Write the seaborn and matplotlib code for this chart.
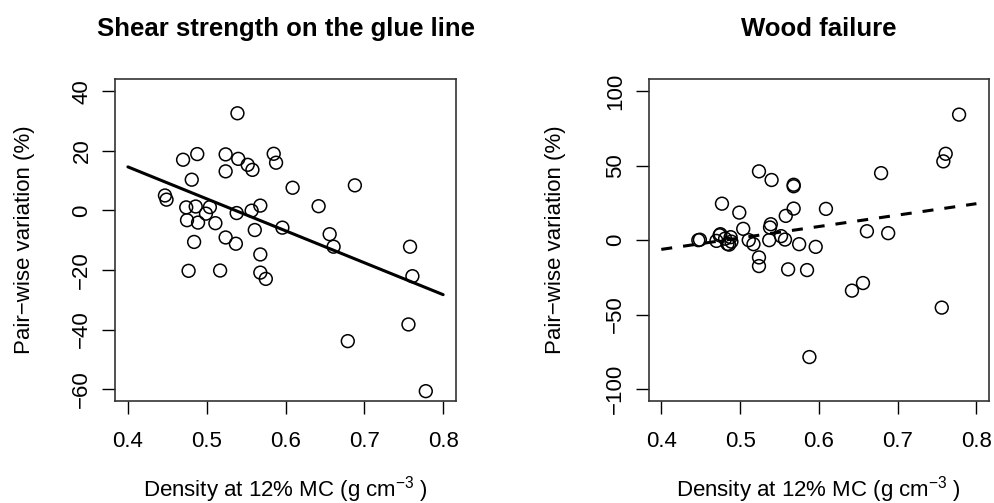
import matplotlib
matplotlib.use("Agg")
import matplotlib.pyplot as plt
import seaborn as sns
import pandas as pd
import numpy as np

# Density at 12% MC (g cm^-3), shared by both panels
density = [0.447, 0.449, 0.470, 0.488, 0.481, 0.539, 0.524, 0.524, 0.540, 0.552,
           0.558, 0.585, 0.588, 0.474, 0.486, 0.504, 0.499, 0.475, 0.489, 0.511,
           0.538, 0.557, 0.568, 0.561, 0.596, 0.484, 0.524, 0.537, 0.609, 0.688,
           0.642, 0.656, 0.661, 0.758, 0.477, 0.517, 0.568, 0.568, 0.575, 0.761,
           0.756, 0.679, 0.778]

# Pair-wise variation (%) - shear strength on the glue line
shear = [5.0, 3.6, 17.0, 18.9, 10.3, 32.6, 18.8, 13.1, 17.3, 15.3,
         13.6, 19.0, 16.0, 1.0, 1.3, 1.1, -1.1, -3.3, -4.1, -4.3,
         -0.9, -0.1, 1.6, -6.6, -5.8, -10.6, -9.1, -11.2, 7.6, 8.4,
         1.4, -8.0, -12.2, -12.2, -20.3, -20.2, -14.8, -20.9, -23.0, -22.1,
         -38.3, -43.9, -60.7]

# Pair-wise variation (%) - wood failure
wood = [0.0, 0.3, -0.5, 2.0, 1.0, 10.7, 46.2, -11.6, 40.4, 2.7,
        16.3, -20.1, -78.5, 3.3, -3.0, 7.6, 18.5, 4.0, -1.0, 0.0,
        8.5, 0.4, 21.2, -19.6, -4.5, -2.5, -17.4, 0.0, 21.0, 4.7,
        -33.9, -28.8, 6.0, 52.9, 24.5, -2.7, 36.2, 37.2, -2.7, 58.0,
        -45.3, 45.0, 84.3]

# Fitted regression lines
fit_x = [0.4, 0.8]
shear_fit = [14.6, -28.3]
wood_fit = [-6.2, 24.5]

titles = ["Shear strength on the glue line", "Wood failure"]
x_ticks = [0.4, 0.5, 0.6, 0.7, 0.8]
shear_ticks = [-60, -40, -20, 0, 20, 40]
wood_ticks = [-100, -50, 0, 50, 100]

sns.set_theme(style="ticks")
plt.rcParams['font.family'] = ['Liberation Sans', 'DejaVu Sans']
plt.rcParams['mathtext.fontset'] = 'custom'
plt.rcParams['mathtext.rm'] = 'Liberation Sans'
plt.rcParams['mathtext.default'] = 'regular'
plt.rcParams['text.color'] = 'black'
plt.rcParams['axes.labelcolor'] = 'black'
plt.rcParams['xtick.color'] = 'black'
plt.rcParams['ytick.color'] = 'black'

fig = plt.figure(figsize=(9.94, 5.03), dpi=100)
ax1 = fig.add_axes([0.116, 0.2028, 0.3425, 0.6395])
ax2 = fig.add_axes([0.6526, 0.2028, 0.3424, 0.6395])

df = pd.DataFrame({"density": density, "shear": shear, "wood": wood})
lines = pd.DataFrame({"x": fit_x, "shear": shear_fit, "wood": wood_fit})

panels = [(ax1, "shear", shear_ticks, (-60, 40), "-", -0.268),
          (ax2, "wood", wood_ticks, (-100, 100), "--", -0.275)]

for (ax, col, yt, ylim, ls, ylx), title in zip(panels, titles):
    sns.scatterplot(data=df, x="density", y=col, ax=ax, s=85,
                    facecolor="none", edgecolor="black", linewidth=1.1,
                    marker="o", zorder=3)
    sns.lineplot(data=lines, x="x", y=col, ax=ax, color="black",
                 linewidth=2.2, linestyle=ls, zorder=2)
    if ls == "--":
        ax.lines[-1].set_dashes([3.6, 3.6])
    ax.set_xlim(0.4 - 0.016, 0.8 + 0.016)
    pad = (ylim[1] - ylim[0]) * 0.04
    ax.set_ylim(ylim[0] - pad, ylim[1] + pad)
    ax.set_xticks(x_ticks)
    ax.set_xticklabels([f"{v:.1f}" for v in x_ticks])
    ax.set_yticks(yt)
    ax.set_yticklabels([str(v).replace("-", "\u2212") for v in yt],
                       rotation=90, va="center")
    ax.tick_params(axis="both", direction="out", length=9.5, width=1.0,
                   labelsize=16, colors="black")
    ax.tick_params(axis="x", pad=12)
    ax.tick_params(axis="y", pad=7)
    for sp in ax.spines.values():
        sp.set_visible(True)
        sp.set_color("#333333")
        sp.set_linewidth(1.2)
    ax.set_xlabel("Density at 12% MC (g cm$^{\u22123}$ )", fontsize=16,
                  va="center")
    ax.xaxis.set_label_coords(0.5, -0.274)
    ax.set_ylabel("Pair\u2212wise variation (%)", fontsize=16, va="center")
    ax.yaxis.set_label_coords(ylx, 0.5)
    ax.set_title(title, fontsize=18.5, fontweight="bold", pad=31)
    ax.set_facecolor("white")

fig.patch.set_facecolor("white")
fig.savefig("out.png", dpi=100, facecolor="white")
